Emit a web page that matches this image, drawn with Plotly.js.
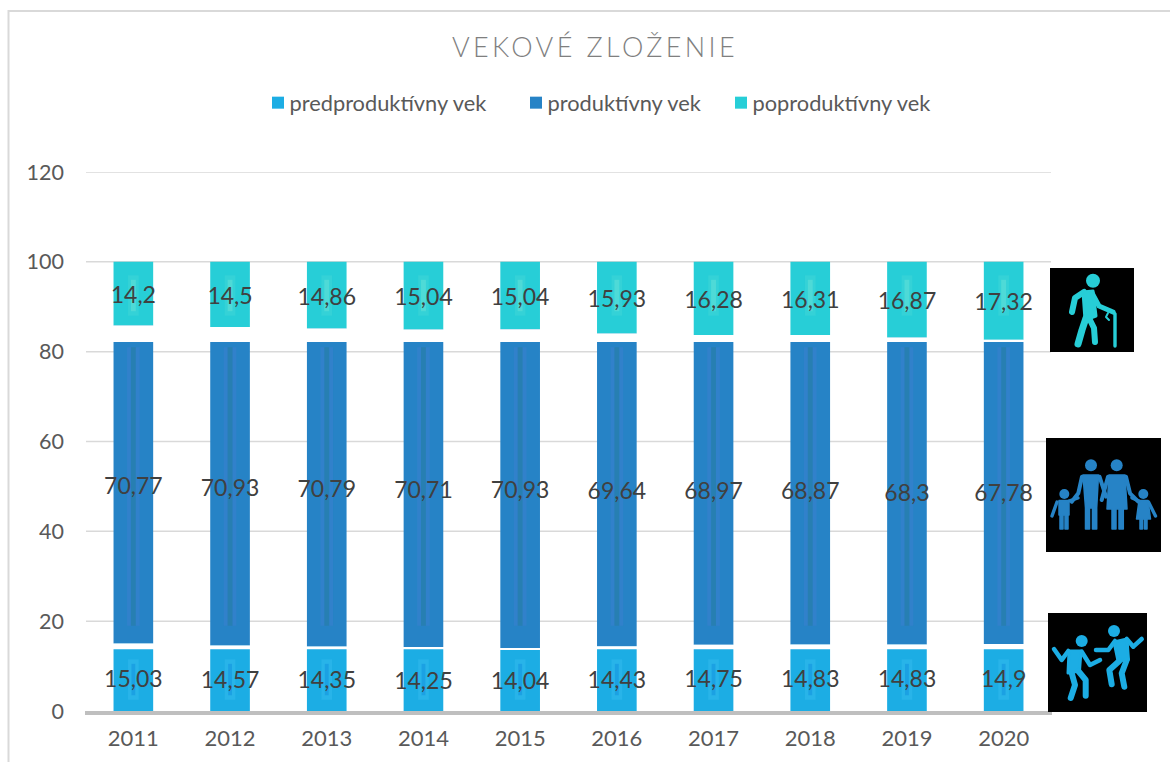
<!DOCTYPE html>
<html><head><meta charset="utf-8">
<script src="https://cdn.plot.ly/plotly-3.0.1.min.js"></script>
<style>
html,body{margin:0;padding:0;background:#fff;overflow:hidden}
#chart{width:1170px;height:762px}
.gtitle{letter-spacing:3.4px}
.legendtext,.legend2text,.legend3text{transform:translateX(-8.5px)}
.textpoint{transform:translateY(9.5px)}
</style></head><body><div id="chart"></div>
<script>
const years=['2011','2012','2013','2014','2015','2016','2017','2018','2019','2020'];
const pre=[15.03,14.57,14.35,14.25,14.04,14.43,14.75,14.83,14.83,14.9];
const prod=[70.77,70.93,70.79,70.71,70.93,69.64,68.97,68.87,68.3,67.78];
const post=[14.2,14.5,14.86,15.04,15.04,15.93,16.28,16.31,16.87,17.32];
const yTicks=[0,20,40,60,80,100,120];
const names=['predproduktívny vek','produktívny vek','poproduktívny vek'];
const colors=['#1CADE4','#2683C6','#27CED7'];
const FONT='Lato, "Open Sans", sans-serif';
const preFillTop=13.76, prodFillTop=82.16; // picture fills stop short of the segment end

const base2=pre, base3=pre.map((v,i)=>v+prod[i]);
const fmt=v=>String(v).replace('.',',');
function bar(y,base,name,color,legend){return {type:'bar',x:years,y,base,name,legend,marker:{color},width:0.41,hoverinfo:'y+name',showlegend:true};}
function gap(bottom,top){return {type:'bar',x:years,base:bottom,y:top.map((t,i)=>t-bottom[i]),marker:{color:'#fff'},width:0.43,showlegend:false,hoverinfo:'skip'};}
function stripe(from,to,color,width){return {type:'bar',x:years,base:years.map(()=>from),y:years.map(()=>to-from),marker:{color},width,showlegend:false,hoverinfo:'skip'};}
function labels(y,vals){return {type:'scatter',mode:'text',x:years,y,text:vals.map(fmt),textposition:'middle center',textfont:{family:FONT,size:23,color:'#404040'},showlegend:false,hoverinfo:'skip'};}

const traces=[
 bar(pre,0,names[0],colors[0],'legend'),
 bar(prod,base2,names[1],colors[1],'legend2'),
 bar(post,base3,names[2],colors[2],'legend3'),
 gap(pre.map(()=>preFillTop),pre),
 gap(pre.map(()=>prodFillTop),base3),
 stripe(19,81,'rgba(75,125,215,0.3)',0.13),
 stripe(19,81,'rgba(25,125,140,0.4)',0.05),
 stripe(2.5,11.5,'rgba(60,190,240,0.4)',0.11),
 stripe(3.5,10.5,'rgba(0,120,215,0.3)',0.04),
 stripe(88,97,'rgba(90,225,215,0.25)',0.11),
 stripe(89,96,'rgba(130,235,215,0.35)',0.05),
 labels(pre.map(v=>v/2),pre),
 labels(pre.map((v,i)=>v+prod[i]/2),prod),
 labels(base3.map((v,i)=>v+post[i]/2),post)
];

function svg(w,h,color,body){return 'data:image/svg+xml;utf8,'+encodeURIComponent(`<svg xmlns="http://www.w3.org/2000/svg" width="${w}" height="${h}" viewBox="0 0 ${w} ${h}"><rect width="${w}" height="${h}" fill="#000"/><g fill="none" stroke="${color}" stroke-linecap="round" stroke-linejoin="round">${body}</g></svg>`);}
const F=c=>`fill="${c}"`;
const elder=svg(84,84,colors[2],`<circle cx="43" cy="12.7" r="7" ${F(colors[2])} stroke="none"/>
<path d="M34 24 L25 30 L22 44" stroke-width="6"/>
<path d="M33 24 L43 23 L46 48 L35 52 Z" ${F(colors[2])} stroke-width="3"/>
<path d="M42 25 L49 38 L63 44" stroke-width="5"/>
<path d="M36 50 L32 62 L28 76" stroke-width="7"/>
<path d="M39 50 L44 60 L45 74" stroke-width="6"/>
<path d="M63 44 L65 46 V78" stroke-width="3.4"/>
<path d="M58 45 L56 49 L59 52" stroke-width="2"/>`);
const family=svg(115,114,colors[1],`<circle cx="45" cy="27.3" r="6" ${F(colors[1])} stroke="none"/><circle cx="70.7" cy="27.3" r="6" ${F(colors[1])} stroke="none"/><circle cx="18.3" cy="56" r="5" ${F(colors[1])} stroke="none"/><circle cx="97.3" cy="56" r="5" ${F(colors[1])} stroke="none"/>
<path d="M37 37 H52.5 L50.7 70 V91 H46.5 V70 H43.5 V91 H39.5 V70 Z" ${F(colors[1])} stroke-width="1.5"/>
<path d="M36 38.7 L32.3 55.3 L25.7 63.7" stroke-width="4"/><path d="M53.5 38.7 L60 58.7" stroke-width="4"/>
<path d="M63 37 H79 L81 71 H77.3 V91 H73 V71 H70 V91 H66 V71 H61 Z" ${F(colors[1])} stroke-width="1.5"/>
<path d="M62 38.7 L55.7 62" stroke-width="4"/><path d="M80 38.7 L84 55.3 L92.3 63.7" stroke-width="4"/>
<path d="M13 62.5 H23 V77 H22 V91 H19 V77 H17 V91 H14 V77 H13 Z" ${F(colors[1])} stroke-width="1.5"/>
<path d="M11 64 L6 78" stroke-width="3.4"/><path d="M23 63 L32 60" stroke-width="3.4"/>
<path d="M93 62.5 H102 L104.5 81 H101 V91 H98.5 V81 H96.5 V91 H94 V81 H90.5 Z" ${F(colors[1])} stroke-width="1.5"/>
<path d="M102.5 64 L109.5 78" stroke-width="3.4"/><path d="M93 63 L86 60" stroke-width="3.4"/>`);
const dance=svg(99,99,colors[0],`<circle cx="33.7" cy="28" r="6" ${F(colors[0])} stroke="none"/><circle cx="66" cy="18" r="6" ${F(colors[0])} stroke="none"/>
<path d="M6 36 L13.7 47 L20.3 38" stroke-width="4.5"/><path d="M33.7 38.7 L42 52 L52 47" stroke-width="4.5"/>
<path d="M21 38 H33 L31.5 58 L20 60 Z" ${F(colors[0])} stroke-width="3"/>
<path d="M23.7 60 L27 72 L22.7 85" stroke-width="6"/><path d="M30.3 58 L37.7 67 L37.7 82.7" stroke-width="6"/>
<path d="M48 37 H60.3 L67 28" stroke-width="4.5"/><path d="M78.7 26 L85.3 33.7 L93.7 26" stroke-width="4.5"/>
<path d="M66 29 L79 26 L80.5 46.5 L70 48 Z" ${F(colors[0])} stroke-width="3"/>
<path d="M71.3 48 L61.3 57 L63.7 71.3" stroke-width="6"/><path d="M78.7 47 L73.7 60.3 L76.3 73.7" stroke-width="6"/>`);
const W=1170,H=762;
const PL=85,PR=1052,PT=172,PB=711,PW=PR-PL,PH=PB-PT;
function img(source,x,y,w,h){return {source,xref:'paper',yref:'paper',x:(x-PL)/PW,y:(PB-y)/PH,sizex:w/PW,sizey:h/PH,xanchor:'left',yanchor:'top',sizing:'stretch',layer:'above'};}
function leg(x){return {xref:'container',yref:'container',x:x/W,y:1-82/H,xanchor:'left',yanchor:'top',orientation:'h',bgcolor:'rgba(0,0,0,0)',font:{family:FONT,size:21.8,color:'#595959'},itemclick:false,itemdoubleclick:false};}
const gridShapes=yTicks.filter(t=>t>0).map(t=>({type:'line',xref:'paper',yref:'y',x0:(86-PL)/PW,x1:(1051-PL)/PW,y0:t,y1:t,line:{color:'#d9d9d9',width:1.5},layer:'between'}));

const layout={
 width:W,height:H,paper_bgcolor:'#fff',plot_bgcolor:'#fff',barmode:'overlay',
 margin:{l:PL,r:W-PR,t:PT,b:H-PB,autoexpand:false},
 title:{text:'VEKOVÉ ZLOŽENIE',font:{family:FONT,size:27,color:'#7f7f7f',weight:300},x:(595-PL)/PW,xanchor:'center',xref:'paper',y:1-48/H,yanchor:'middle'},
 xaxis:{type:'category',tickfont:{family:FONT,size:22,color:'#595959'},showgrid:false,showline:true,linecolor:'#bfbfbf',linewidth:4,ticks:'',zeroline:false,ticklabelstandoff:5},
 yaxis:{range:[0,120],tickvals:yTicks,tickfont:{family:FONT,size:21.5,color:'#595959'},showgrid:false,zeroline:false,showline:false,ticks:'',ticklabelstandoff:20},
 legend:leg(258),legend2:leg(516),legend3:leg(721),
 images:[img(elder,1050,268,84,84),img(family,1046,438,115,114),img(dance,1048,613,99,99)],
 shapes:[...gridShapes,{type:'rect',xref:'paper',yref:'paper',x0:(8.5-PL)/PW,x1:(1200-PL)/PW,y0:(PB-800)/PH,y1:(PB-11)/PH,line:{color:'#d9d9d9',width:2},fillcolor:'rgba(0,0,0,0)',layer:'below'}]
};
Plotly.newPlot('chart',traces,layout,{displayModeBar:false,responsive:false});
</script></body></html>
